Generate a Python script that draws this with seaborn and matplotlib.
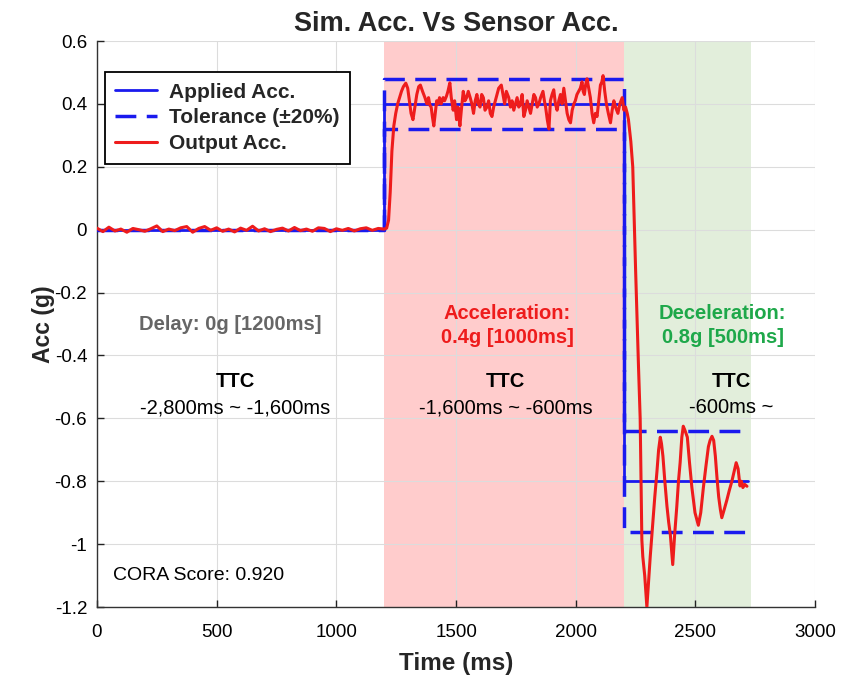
import numpy as np
import pandas as pd
import seaborn as sns
import matplotlib
matplotlib.use("Agg")
import matplotlib.pyplot as plt
from matplotlib.ticker import FuncFormatter

# ---------------- data ----------------
applied_t = [0, 1200, 1200, 2200, 2200, 2720]
applied_y = [0, 0, 0.4, 0.4, -0.8, -0.8]

tol_upper_t = [0, 1200, 1200, 2200, 2200, 2720]
tol_upper_y = [0, 0, 0.48, 0.48, -0.64, -0.64]
tol_lower_t = [1200, 1200, 2200, 2200, 2720]
tol_lower_y = [0, 0.32, 0.32, -0.96, -0.96]

delay_t = [0, 25, 50, 75, 100, 125, 150, 175, 200, 225, 250, 275, 300, 325, 350,
           375, 400, 425, 450, 475, 500, 525, 550, 575, 600, 625, 650, 675, 700,
           725, 750, 775, 800, 825, 850, 875, 900, 925, 950, 975, 1000, 1025,
           1050, 1075, 1100, 1125, 1150, 1175, 1200]
delay_y = [0.005, -0.006, 0.008, -0.004, 0.002, -0.008, 0.004, 0.0, -0.005, 0.003,
           0.012, -0.006, 0.002, -0.003, 0.006, 0.010, -0.008, 0.004, 0.010, -0.002,
           0.006, -0.005, 0.002, -0.007, 0.005, -0.002, 0.011, -0.004, 0.003, -0.006,
           0.001, 0.005, -0.004, 0.007, -0.003, 0.002, -0.005, 0.006, 0.004, -0.006,
           0.003, -0.002, 0.004, -0.004, 0.003, 0.006, -0.002, 0.004, 0.002]

accel_t = [1210, 1218, 1225, 1232, 1240, 1248, 1256, 1264, 1272, 1280, 1290, 1298,
           1305, 1312, 1320, 1328, 1336, 1344, 1351, 1360, 1370, 1378, 1385, 1391,
           1396, 1401, 1407, 1413, 1419, 1425, 1431, 1438, 1446, 1452, 1460, 1466,
           1474, 1480, 1488, 1494, 1502, 1508, 1516, 1522, 1530, 1537, 1544, 1551,
           1559, 1566, 1573, 1580, 1587, 1593, 1600, 1607, 1614, 1621, 1629, 1636,
           1643, 1650, 1657, 1664, 1671, 1678, 1689, 1696, 1703, 1710, 1720, 1727,
           1734, 1741, 1748, 1755, 1762, 1769, 1776, 1783, 1790, 1797, 1804, 1811,
           1818, 1825, 1832, 1839, 1846, 1853, 1863, 1869, 1874, 1881, 1888, 1894,
           1901, 1908, 1915, 1922, 1929, 1936, 1943, 1950, 1957, 1964, 1971, 1978,
           1985, 1992, 1998, 2005, 2012, 2019, 2026, 2031, 2036, 2041, 2047, 2054,
           2061, 2068, 2075, 2082, 2089, 2096, 2103, 2109, 2114, 2121, 2128, 2136,
           2145, 2152, 2159, 2166, 2176, 2184, 2194, 2201, 2208, 2215]
accel_y = [0.005, 0.03, 0.12, 0.25, 0.33, 0.37, 0.40, 0.42, 0.44, 0.455, 0.466, 0.45,
           0.41, 0.37, 0.35, 0.39, 0.43, 0.455, 0.46, 0.44, 0.42, 0.40, 0.42, 0.395,
           0.39, 0.36, 0.33, 0.37, 0.41, 0.40, 0.42, 0.40, 0.42, 0.41, 0.425, 0.44,
           0.467, 0.42, 0.38, 0.41, 0.35, 0.39, 0.33, 0.38, 0.44, 0.41, 0.42, 0.44,
           0.42, 0.40, 0.37, 0.41, 0.43, 0.40, 0.39, 0.43, 0.42, 0.38, 0.39, 0.41,
           0.37, 0.36, 0.39, 0.41, 0.43, 0.45, 0.46, 0.43, 0.40, 0.44, 0.42, 0.39,
           0.41, 0.38, 0.40, 0.42, 0.39, 0.40, 0.43, 0.36, 0.38, 0.41, 0.39, 0.37,
           0.40, 0.43, 0.42, 0.39, 0.40, 0.42, 0.44, 0.41, 0.39, 0.35, 0.32, 0.41,
           0.43, 0.445, 0.40, 0.38, 0.41, 0.43, 0.40, 0.45, 0.41, 0.37, 0.35, 0.34,
           0.38, 0.40, 0.41, 0.43, 0.44, 0.45, 0.47, 0.44, 0.43, 0.46, 0.48, 0.45,
           0.42, 0.37, 0.34, 0.37, 0.36, 0.41, 0.46, 0.47, 0.49, 0.44, 0.40, 0.37,
           0.34, 0.38, 0.41, 0.39, 0.37, 0.40, 0.42, 0.38, 0.39, 0.37]

decel_t = [2220, 2230, 2238, 2250, 2262, 2269, 2276, 2280, 2288, 2297, 2304, 2311,
           2322, 2330, 2339, 2346, 2353, 2358, 2364, 2372, 2381, 2388, 2395, 2405,
           2413, 2422, 2429, 2436, 2443, 2449, 2457, 2466, 2475, 2485, 2498, 2512,
           2522, 2533, 2544, 2554, 2561, 2569, 2576, 2583, 2590, 2597, 2604, 2610,
           2620, 2631, 2641, 2652, 2661, 2670, 2678, 2686, 2692, 2698, 2706, 2715]
decel_y = [0.35, 0.28, 0.20, -0.13, -0.435, -0.60, -0.986, -1.04, -1.10, -1.20, -1.12,
           -1.04, -0.93, -0.85, -0.77, -0.70, -0.66, -0.68, -0.72, -0.80, -0.88, -0.93,
           -0.97, -1.065, -0.97, -0.88, -0.80, -0.74, -0.66, -0.625, -0.64, -0.66,
           -0.74, -0.82, -0.90, -0.94, -0.90, -0.82, -0.75, -0.69, -0.67, -0.657,
           -0.67, -0.72, -0.79, -0.85, -0.89, -0.916, -0.89, -0.86, -0.83, -0.80,
           -0.77, -0.741, -0.76, -0.815, -0.80, -0.82, -0.81, -0.816]

output_t = delay_t + accel_t + decel_t
output_y = delay_y + accel_y + decel_y

x_ticks = [0, 500, 1000, 1500, 2000, 2500, 3000]
y_ticks = [-1.2, -1, -0.8, -0.6, -0.4, -0.2, 0, 0.2, 0.4, 0.6]

accel_span = (1200, 2200)
decel_span = (2200, 2730)

# ---------------- style ----------------
sns.set_theme(style="whitegrid")
plt.rcParams["font.family"] = ["Liberation Sans", "DejaVu Sans"]
plt.rcParams["axes.unicode_minus"] = False

BLUE = "#1a1aee"
RED = "#ee1c1c"

fig = plt.figure(figsize=(8.43, 6.75), dpi=100)
ax = fig.add_axes([0.115, 0.1007, 0.852, 0.8385])

ax.axvspan(*accel_span, color="#ffcccc", zorder=0, lw=0)
ax.axvspan(*decel_span, color="#e2eedb", zorder=0, lw=0)

df_app = pd.DataFrame({"t": applied_t, "y": applied_y})
df_up = pd.DataFrame({"t": tol_upper_t, "y": tol_upper_y})
df_lo = pd.DataFrame({"t": tol_lower_t, "y": tol_lower_y})
df_out = pd.DataFrame({"t": output_t, "y": output_y})

dash = (0, (6, 3))
sns.lineplot(data=df_app, x="t", y="y", ax=ax, color=BLUE, lw=2.0,
             estimator=None, sort=False, label="Applied Acc.", zorder=3)
sns.lineplot(data=df_up, x="t", y="y", ax=ax, color=BLUE, lw=2.5, linestyle=dash,
             estimator=None, sort=False, label="Tolerance (\u00b120%)", zorder=3)
sns.lineplot(data=df_lo, x="t", y="y", ax=ax, color=BLUE, lw=2.5, linestyle=dash,
             estimator=None, sort=False, label="_nolegend_", zorder=3)
sns.lineplot(data=df_out, x="t", y="y", ax=ax, color=RED, lw=2.2,
             estimator=None, sort=False, label="Output Acc.", zorder=4)

ax.set_xlim(0, 3000)
ax.set_ylim(-1.2, 0.6)
ax.set_xticks(x_ticks)
ax.set_yticks(y_ticks)
ax.xaxis.set_major_formatter(FuncFormatter(lambda v, p: f"{v:g}"))
ax.yaxis.set_major_formatter(FuncFormatter(lambda v, p: f"{v:g}"))
ax.tick_params(axis="both", direction="in", length=5, width=1, colors="#222222",
               labelsize=13.5, left=True, bottom=True)
ax.tick_params(axis="x", pad=12)
ax.tick_params(axis="y", pad=7)
ax.tick_params(axis="both", labelcolor="black")
ax.grid(True, color="#dcdcdc", lw=0.8)
ax.set_facecolor("white")
for s in ["top", "right"]:
    ax.spines[s].set_visible(False)
for s in ["left", "bottom"]:
    ax.spines[s].set_visible(True)
    ax.spines[s].set_color("#333333")
    ax.spines[s].set_linewidth(1.0)

ax.set_title("Sim. Acc. Vs Sensor Acc.", fontsize=19.5, fontweight="bold", pad=7)
ax.set_xlabel("Time (ms)", fontsize=17.5, fontweight="bold", labelpad=8)
ax.set_ylabel("Acc (g)", fontsize=16.5, fontweight="bold", labelpad=0)

leg = ax.legend(loc="upper left", bbox_to_anchor=(0.011, 0.945), borderaxespad=0,
                frameon=True, fancybox=False, framealpha=1, edgecolor="black",
                prop={"weight": "bold", "size": 15}, handlelength=2.0,
                handletextpad=0.6, borderpad=0.5, labelspacing=0.33)
leg.get_frame().set_linewidth(1.3)

fs = 14.5
ax.text(555, -0.302, "Delay: 0g [1200ms]", color="#666666", fontsize=fs,
        fontweight="bold", ha="center", va="center")
ax.text(1714, -0.265, "Acceleration:", color="#ee1c1c", fontsize=fs,
        fontweight="bold", ha="center", va="center")
ax.text(1714, -0.344, "0.4g [1000ms]", color="#ee1c1c", fontsize=fs,
        fontweight="bold", ha="center", va="center")
ax.text(2614, -0.265, "Deceleration:", color="#1ea84a", fontsize=fs,
        fontweight="bold", ha="center", va="center")
ax.text(2614, -0.344, "0.8g [500ms]", color="#1ea84a", fontsize=fs,
        fontweight="bold", ha="center", va="center")

for cx, rng in [(577, "-2,800ms ~ -1,600ms"), (1706, "-1,600ms ~ -600ms"),
                (2648, "-600ms ~")]:
    ax.text(cx, -0.482, "TTC", color="black", fontsize=fs, fontweight="bold",
            ha="center", va="center")
    ax.text(cx, -0.567, rng, color="black", fontsize=14.5, ha="center", va="center")

ax.text(67, -1.10, "CORA Score: 0.920", color="black", fontsize=14,
        ha="left", va="center")

fig.savefig("out.png", dpi=100)
